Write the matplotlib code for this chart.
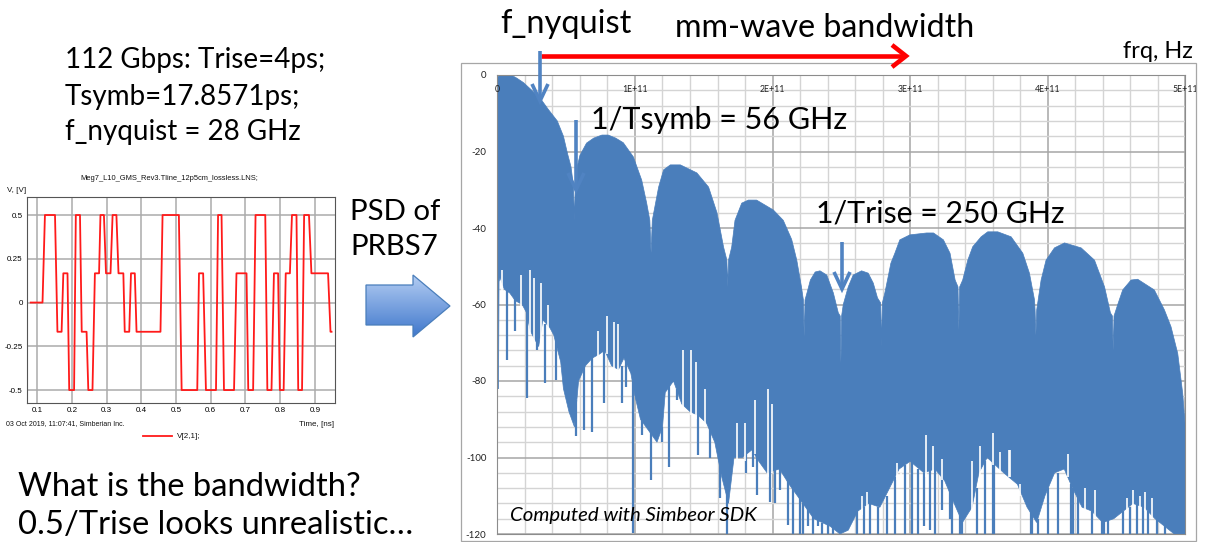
import numpy as np
import matplotlib
matplotlib.use('Agg')
import matplotlib.pyplot as plt
from matplotlib.patches import Polygon, Rectangle
import matplotlib.transforms as mtransforms

W, H = 1207, 542

# ---------------- data: PRBS waveform (left screenshot) ----------------
wave_t_ns = [0.081, 0.115, 0.122, 0.151, 0.158, 0.170, 0.175, 0.187, 0.192, 0.206,
             0.211, 0.223, 0.228, 0.242, 0.247, 0.259, 0.266, 0.278, 0.282, 0.292,
             0.298, 0.311, 0.317, 0.328, 0.334, 0.348, 0.352, 0.365, 0.370, 0.381,
             0.386, 0.455, 0.461, 0.508, 0.516, 0.561, 0.566, 0.578, 0.586, 0.615,
             0.621, 0.631, 0.638, 0.667, 0.674, 0.703, 0.708, 0.722, 0.729, 0.757,
             0.763, 0.775, 0.782, 0.794, 0.799, 0.810, 0.816, 0.828, 0.834, 0.847,
             0.852, 0.863, 0.869, 0.883, 0.890, 0.938, 0.945, 0.948]
wave_v = [0, 0, 0.5, 0.5, -0.167, -0.167, 0.167, 0.167, -0.5, -0.5,
          0.5, 0.5, -0.167, -0.167, -0.5, -0.5, 0.167, 0.167, 0.5, 0.5,
          0.167, 0.167, 0.5, 0.5, 0.167, 0.167, -0.167, -0.167, 0.167, 0.167,
          -0.167, -0.167, 0.5, 0.5, -0.5, -0.5, 0.167, 0.167, -0.5, -0.5,
          0.5, 0.5, -0.5, -0.5, 0.167, 0.167, -0.5, -0.5, 0.5, 0.5,
          -0.5, -0.5, 0.167, 0.167, -0.5, -0.5, 0.167, 0.167, 0.5, 0.5,
          -0.5, -0.5, 0.5, 0.5, 0.167, 0.167, -0.167, -0.167]
wave_xticks = [0.1, 0.2, 0.3, 0.4, 0.5, 0.6, 0.7, 0.8, 0.9]
wave_xticklabels = ['0.1', '0.2', '0.3', '0.4', '0.5', '0.6', '0.7', '0.8', '0.9']
wave_yticks = [-0.5, -0.25, 0, 0.25, 0.5]
wave_yticklabels = ['-0.5', '-0.25', '0', '0.25', '0.5']

# ---------------- data: PSD of PRBS7 (right chart) ----------------
psd_upper_f_ghz = [0, 1, 4, 10, 14, 19, 25, 31, 37, 43.5,
                   48, 51, 53.5, 55.3, 56, 56.6, 58, 60, 64.8, 70,
                   76, 80.6, 86, 91.5, 98.8, 104.9, 108.5, 110.8, 111.7, 112.6,
                   114.7, 117.2, 120.8, 125.7, 133, 145, 153.5, 159.6, 164.4, 166.8,
                   167.4, 168.0, 170.3, 172.7, 177.6, 182.4, 188.4, 200.6, 207.8, 213.9,
                   217.6, 221, 222.4, 223, 223.6, 225, 227.5, 231, 234.5, 239.4,
                   244.2, 247.8, 249.2, 249.7, 250.2, 251.4, 255, 258.6, 264.7, 269.5,
                   273.2, 276.3, 278.6, 279.2, 279.8, 281.6, 284, 286, 288.9, 292.5,
                   299.8, 312, 317, 324.2, 329, 332.7, 334.8, 335.4, 336, 338.2,
                   341.9, 345.5, 351.6, 356.4, 363.7, 373.4, 381.9, 386.7, 390.4, 390.8,
                   391.4, 392, 395.2, 398.8, 404.9, 412.2, 424.3, 434, 441.3, 445.6,
                   447, 447.6, 448.2, 450.9, 454.5, 460.6, 465.4, 477.5, 484.8, 489.6,
                   494.5, 498.1, 500]
psd_upper_db = [-1, 0, 0, 0, -0.8, -2, -4, -6, -9, -12,
                -16, -20.6, -24, -29, -38, -29, -24, -21, -17.8, -16.5,
                -15.7, -15.7, -16.5, -17.7, -21.4, -27.5, -33.5, -38, -46.5, -38,
                -34, -29.3, -24.8, -23.5, -23.5, -25.6, -29.3, -36, -45, -48.4,
                -55.4, -48.4, -45, -38, -33.5, -32.7, -32.7, -35.3, -38, -43,
                -48.4, -55.4, -58.8, -68.5, -58.8, -57, -53.6, -51.5, -51.2, -52.3,
                -57, -62.2, -63, -75.3, -63, -60, -55.4, -52.3, -51.2, -51.8,
                -54.4, -58.3, -59.6, -71, -59.6, -57, -52.8, -49.2, -46.6, -43.1,
                -41.8, -41.3, -41.3, -43.1, -46.6, -53.6, -55.4, -66.7, -55.4, -53.6,
                -48.4, -44.9, -42.3, -41, -41, -42.3, -46.6, -51.8, -58.8, -61.4,
                -68, -61.4, -53.6, -48.4, -45.2, -43.9, -45.2, -48.4, -55.4, -62.2,
                -63, -72, -63, -60, -56.2, -53.6, -53.4, -56.2, -61.4, -65.8,
                -72.8, -83.2, -92]
psd_lower_f_ghz = [0, 0.8, 1.2, 2, 5, 9, 13, 18, 21, 24,
                   30, 33, 38, 41, 46, 48, 52, 56, 59, 64,
                   69, 74, 78, 83, 88, 92, 97, 100, 104, 110,
                   116, 120, 122, 128, 134, 140, 146, 152, 158, 163,
                   168, 172, 178, 185, 190, 196, 205, 212, 218, 224,
                   230, 236, 242, 249, 255, 262, 270, 278, 285, 292,
                   300, 310, 318, 325, 332, 338, 345, 350, 356, 362,
                   368, 378, 385, 392, 398, 405, 412, 418, 425, 432,
                   440, 448, 455, 462, 470, 478, 485, 492, 500]
psd_lower_db = [-82, -82, -54, -53, -56, -57, -59, -60, -62, -67,
                -71, -64, -66, -68, -75, -82, -88, -92, -80, -76,
                -74, -73, -72, -76, -77, -74, -78, -84, -90, -93,
                -96, -92, -83, -80, -86, -88, -89, -91, -96, -105,
                -112, -100, -100, -98, -101, -104, -103, -107, -110, -113,
                -116, -117, -118, -120, -119, -114, -112, -113, -108, -103,
                -101, -104, -103, -106, -112, -117, -113, -104, -100, -102,
                -104, -107, -113, -117, -110, -104, -103, -108, -113, -114,
                -117, -116, -114, -112, -113, -116, -118, -120, -120]
# deep minima (spikes below the dense band)
spike_f_ghz = [7.2, 12.8, 21.3, 29.0, 34.6, 42.6, 49.9, 57.2, 63.2, 69.0,
               77.5, 90.3, 93.5, 98.8, 104.8, 111.6, 119.4, 124.5, 130.3, 146,
               154.5, 161.8, 166.6, 180.7, 186, 188.4, 198.1, 205.4, 211, 314.4,
               322.9, 329, 336.2, 360.4, 388, 417, 441, 469,
               261.1, 266.7, 270.8, 276.8, 282.9, 288.9, 296.2, 301, 305.9, 310.2,
               318, 330.6, 337.4, 348.3, 354.3, 361.1, 388.3, 393, 400.4, 407.6,
               418.5, 422.2, 431.9, 439.1, 444, 454.9, 459.7, 464.6, 473, 479.1,
               485.2, 201.7, 215.1, 220, 222.4, 226, 229.6, 233.3, 235.7, 240.5,
               244.2]
spike_base_db = [-56, -58, -61, -69, -65, -67, -80, -85, -75, -73,
                 -72, -76, -74, -80, -88, -92, -92, -81, -82, -88,
                 -90, -100, -108, -99, -98, -99, -103, -102, -106, -103,
                 -104, -108, -115, -101, -110, -107, -115, -112,
                 -113, -113, -112, -113, -110, -105, -102, -101, -103, -104,
                 -103, -110, -116, -108, -101, -101, -110, -116, -108, -104,
                 -108, -110, -114, -116, -116, -114, -113, -112, -114, -116,
                 -118, -103, -108, -110, -112, -113, -115, -116, -117, -117,
                 -118]
spike_tip_db = [-74.5, -67, -84.5, -72, -80.5, -79.7, -76.6, -94.4, -92.8, -93.3,
                -85.8, -85.8, -81.6, -119.7, -94, -105.9, -95.9, -102.5, -85, -99.3,
                -100, -110.5, -120, -104, -102.5, -109.8, -111.6, -108.5, -117.6, -119,
                -113.7, -116, -120, -120, -120, -120, -120, -120,
                -120, -120, -120, -120, -120, -120, -120, -120, -120, -118,
                -120, -120, -120, -120, -120, -120, -120, -120, -120, -120,
                -120, -120, -120, -120, -120, -120, -120, -120, -120, -120,
                -120, -112, -120, -120, -120, -118, -120, -118, -120, -120,
                -120]
# narrow gaps reaching up into the dense band
gap_f_ghz = [3.6, 17.1, 23.7, 26.8, 31.7, 37, 73.4, 79.4, 85, 87.9,
             135.1, 140.7, 144, 150.9, 173.9, 179.9, 187.2, 196.9, 199.8, 264.7,
             268.3, 293.7, 311.8, 316.9, 350.6, 360.3, 371.8, 406.4, 411.2, 414.9,
             427, 466.8, 471, 372.5, 379.8, 434.3, 457.3, 462.1, 475.5, 290.2,
             323.2, 345, 365.5]
gap_top_db = [-51, -52.3, -51, -53, -54.5, -60, -67, -63, -64.5, -65,
              -72, -72, -75, -82, -91, -91, -85, -82, -86, -110,
              -109, -106, -94, -97, -97, -93.7, -98, -105, -104, -99,
              -108, -110, -109, -98, -107, -108.5, -110.6, -108.5, -110.6, -101.5,
              -100.5, -100.8, -98.6]
gap_bottom_db = [-57, -61, -68, -71, -71, -67, -74, -73, -77, -78,
                 -87, -89, -90, -92, -101, -101, -99, -105, -104, -115,
                 -114, -104, -105, -104, -105, -102, -105, -105, -104, -105,
                 -114, -114, -114, -105, -110, -116, -114, -113, -116, -106,
                 -106, -114, -104]
psd_xticks_hz = [0, 1e11, 2e11, 3e11, 4e11, 5e11]
psd_xticklabels = ['0', '1E+11', '2E+11', '3E+11', '4E+11', '5E+11']
psd_yticks = [0, -20, -40, -60, -80, -100, -120]
psd_yticklabels = ['0', '-20', '-40', '-60', '-80', '-100', '-120']

# ---------------- figure ----------------
plt.rcParams['font.family'] = ['Lato', 'DejaVu Sans']
fig = plt.figure(figsize=(W / 100, H / 100), dpi=100)
fig.patch.set_facecolor('white')
renderer = fig.canvas.get_renderer()

BLUE = '#4a7ebb'


def ax_rect(l, t, r, b):
    return [l / W, 1 - b / H, (r - l) / W, (b - t) / H]


# ---- PSD chart ----
ax = fig.add_axes(ax_rect(497.4, 75, 1185.3, 534))
ax.set_xlim(0, 5e11)
ax.set_ylim(-120, 0)
ax.set_xticks(psd_xticks_hz)
ax.set_xticks(np.arange(0, 5.01e11, 2e10), minor=True)
ax.set_yticks(psd_yticks)
ax.set_yticks(np.arange(-120, 0.1, 4), minor=True)
ax.set_yticklabels(psd_yticklabels)
ax.tick_params(axis='x', which='both', length=0, labelbottom=False)
ax.tick_params(axis='y', which='both', length=0, pad=8, labelsize=7, labelcolor='#222222')
ax.grid(which='major', color='#a6a6a6', lw=1.1, zorder=0)
ax.grid(which='minor', color='#d4d4d4', lw=1.0, zorder=0)
ax.set_axisbelow(True)
for sp in ax.spines.values():
    sp.set_color('#8c8c8c')
    sp.set_linewidth(0.8)

fu = np.array(psd_upper_f_ghz) * 1e9
fl = np.array(psd_lower_f_ghz) * 1e9
poly_x = np.concatenate([fu, fl[::-1]])
poly_y = np.concatenate([np.array(psd_upper_db), np.array(psd_lower_db)[::-1]])
ax.fill(poly_x, poly_y, facecolor=BLUE, edgecolor=BLUE, lw=0.5, zorder=2)
ax.vlines(np.array(spike_f_ghz) * 1e9, spike_tip_db, spike_base_db, colors=BLUE, lw=1.6, zorder=2)
ax.vlines(np.array(gap_f_ghz) * 1e9, gap_bottom_db, gap_top_db, colors='white', lw=1.2, zorder=3)

xt = mtransforms.offset_copy(ax.get_xaxis_transform(), fig=fig, y=-14, units='dots')
for f, lab in zip(psd_xticks_hz, psd_xticklabels):
    ax.text(f, 1, lab, transform=xt, ha='center', va='center', fontsize=6.3, color='#222222', zorder=5)

# ---- waveform screenshot ----
ax2 = fig.add_axes(ax_rect(27, 197, 335, 403))
ax2.plot(wave_t_ns, wave_v, color='#ff1a1a', lw=1.3, zorder=3)
ax2.set_xlim(0.0703, 0.958)
ax2.set_ylim(-0.574, 0.603)
ax2.set_xticks(wave_xticks)
ax2.set_xticklabels(wave_xticklabels)
ax2.set_yticks(wave_yticks)
ax2.set_yticklabels(wave_yticklabels)
ax2.tick_params(length=0, labelsize=5.8, pad=3)
for lab in ax2.get_xticklabels() + ax2.get_yticklabels():
    lab.set_family('Liberation Sans')
ax2.grid(color='#ababab', lw=1.1, zorder=0)
for sp in ax2.spines.values():
    sp.set_color('#555555')
    sp.set_linewidth(0.8)

# ---- overlay in pixel coordinates ----
ov = fig.add_axes([0, 0, 1, 1], zorder=10)
ov.set_xlim(0, W)
ov.set_ylim(H, 0)
ov.axis('off')
ov.patch.set_alpha(0)

ov.add_patch(Rectangle((461, 63), 735, 478, fill=False, ec='#a6a6a6', lw=0.9))


def fit(x, y, s, width, size0=20, **kw):
    t = ov.text(x, y, s, fontsize=size0, **kw)
    w = t.get_window_extent(renderer=renderer).width
    t.set_fontsize(size0 * width / w)
    return t


def put(x, y, s, size, **kw):
    return ov.text(x, y, s, fontsize=size, **kw)


# left texts
t1 = fit(65, 68, '112 Gbps: Trise=4ps;', 260, va='baseline')
s1 = t1.get_fontsize()
put(65, 105, 'Tsymb=17.8571ps;', s1, va='baseline')
put(65, 140, 'f_nyquist = 28 GHz', s1, va='baseline')

t2 = fit(350, 220, 'PSD of', 90, va='baseline')
put(350, 255, 'PRBS7', t2.get_fontsize(), va='baseline')

t3 = fit(18, 496, 'What is the bandwidth?', 344, va='baseline')
put(18, 534, '0.5/Trise looks unrealistic…', t3.get_fontsize(), va='baseline')

# top / chart texts
fit(500, 33, 'f_nyquist', 132, va='baseline')
fit(675, 37, 'mm-wave bandwidth', 300, va='baseline')
fit(1123, 58, 'frq, Hz', 70, va='baseline')
fit(591, 129, '1/Tsymb = 56 GHz', 256, va='baseline')
fit(816, 223, '1/Trise = 250 GHz', 249, va='baseline')
fit(510, 521, 'Computed with Simbeor SDK', 247, va='baseline', style='italic')

# waveform screenshot texts
LS = dict(family='Liberation Sans', color='#111111')
fit(80, 178, 'Meg7_L10_GMS_Rev3.Tline_12p5cm_lossless.LNS;', 178, size0=6, va='center', **LS)
put(7, 191, 'V, [V]', 5.8, va='center', **LS)
fit(6, 424, '03 Oct 2019, 11:07:41, Simberian Inc.', 120, size0=6, va='center', **LS)
put(334, 424, 'Time, [ns]', 5.8, va='center', ha='right', **LS)
ov.plot([143, 172], [436, 436], color='#ff1a1a', lw=1.3)
put(177, 436, 'V[2,1];', 5.8, va='center', **LS)

# red arrow
ov.plot([541, 905], [56, 56], color='#ff0000', lw=3.3, solid_capstyle='butt')
ov.plot([892, 906, 892], [45, 56, 67], color='#ff0000', lw=3.3,
        solid_joinstyle='miter', solid_capstyle='butt')

# blue annotation arrows
ACOL = '#5083c2'


def blue_arrow(x, y0, y1, hw=8, hl=17):
    ov.plot([x, x], [y0, y1 - 1.5], color=ACOL, lw=2.6, solid_capstyle='butt')
    ov.plot([x - hw, x, x + hw], [y1 - hl, y1, y1 - hl], color=ACOL, lw=2.6,
            solid_joinstyle='miter', solid_capstyle='butt')


blue_arrow(540, 51, 101)
blue_arrow(576, 120, 190)
blue_arrow(842, 242, 289)

# gradient block arrow
arrow_pts = [(366, 285), (413, 285), (413, 275), (450, 306), (413, 337), (413, 325), (366, 325)]
arr = Polygon(arrow_pts, closed=True, facecolor='none', edgecolor='#4a7ebb', lw=0.9, zorder=12)
ov.add_patch(arr)
top_c = np.array([0.70, 0.80, 0.95])
bot_c = np.array([0.25, 0.47, 0.80])
g = np.linspace(0, 1, 64)[:, None, None]
grad = top_c[None, None, :] * (1 - g) + bot_c[None, None, :] * g
im = ov.imshow(grad, extent=(366, 450, 337, 275), origin='upper', aspect='auto', zorder=11)
im.set_clip_path(Polygon(arrow_pts, closed=True, transform=ov.transData))
ov.set_xlim(0, W)
ov.set_ylim(H, 0)

fig.savefig('out.png', dpi=100, facecolor='white')
